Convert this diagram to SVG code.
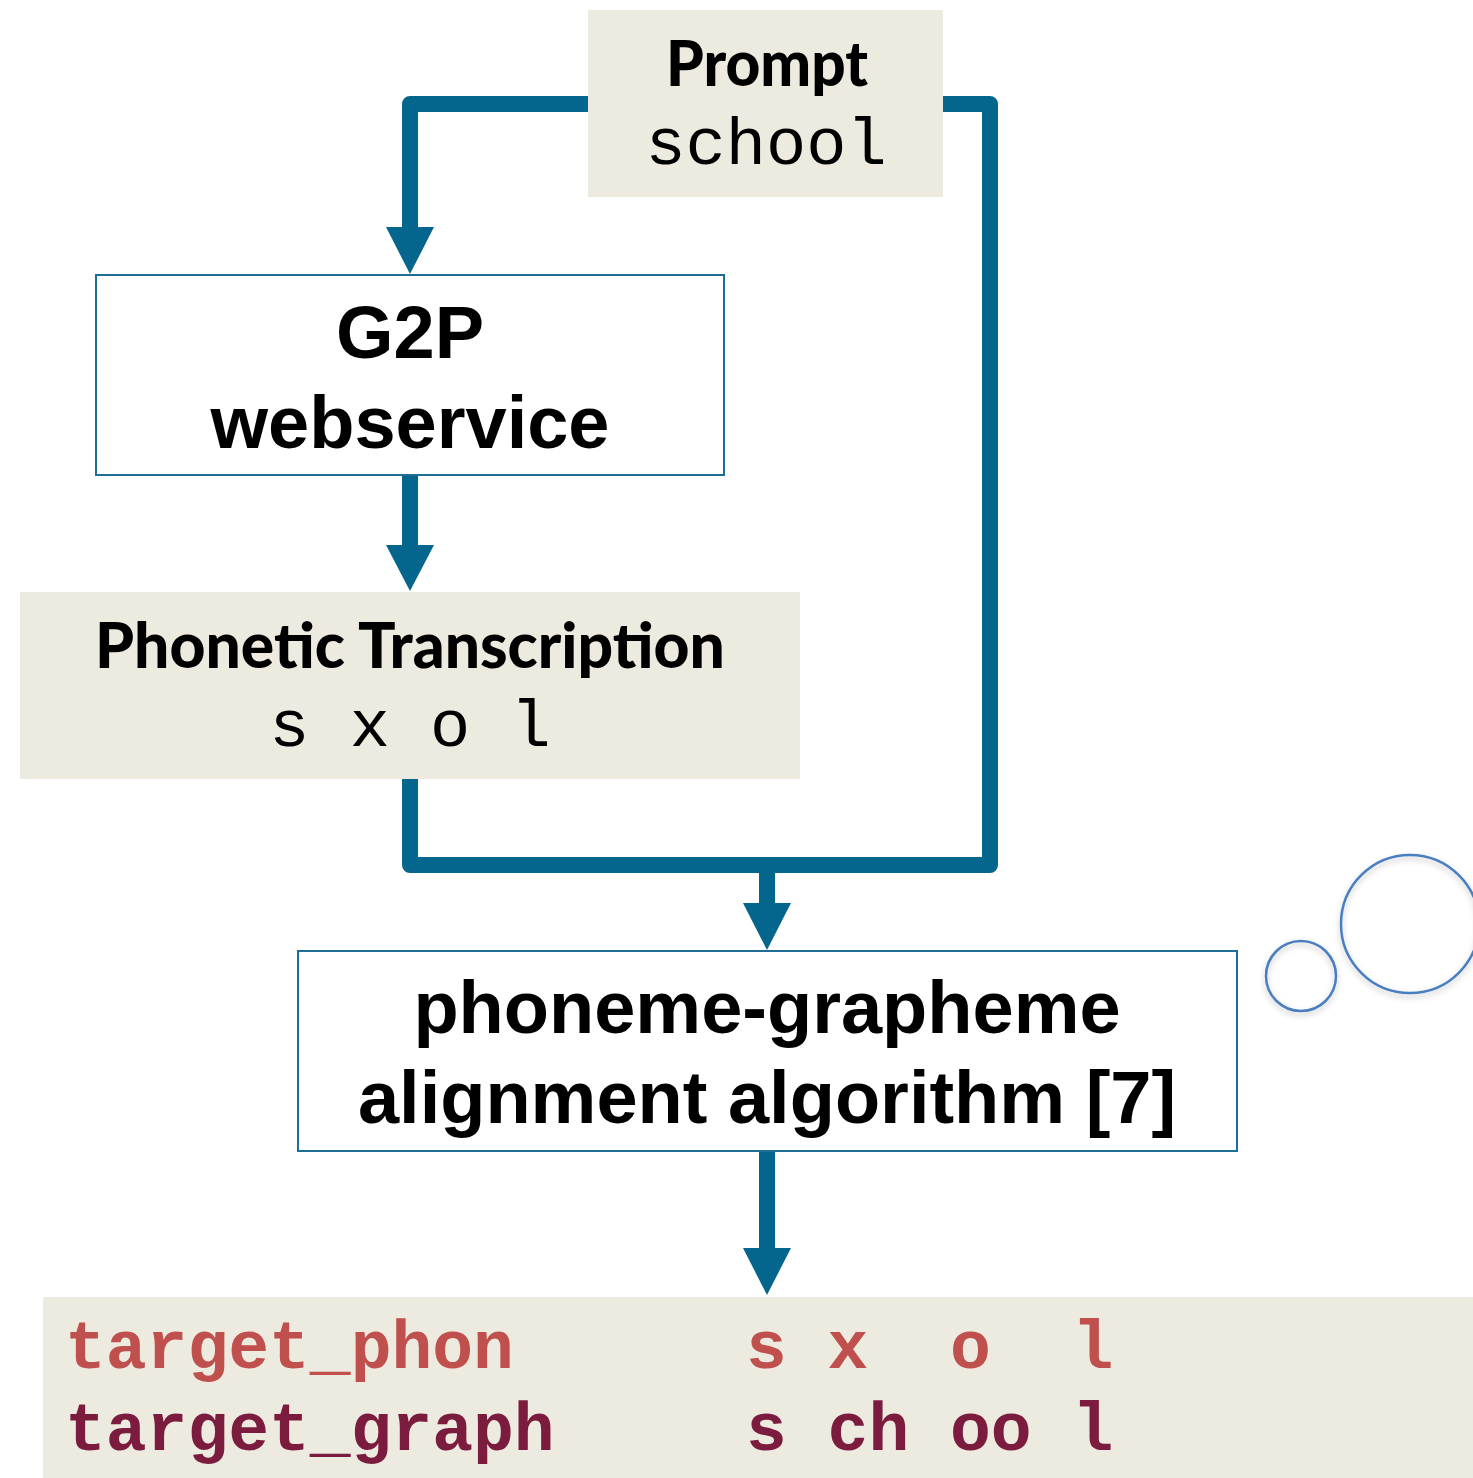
<svg xmlns="http://www.w3.org/2000/svg" width="1473" height="1478" viewBox="0 0 1473 1478">
  <style>
    .panel { fill: #EDEADF; }
    .box { fill: #FFFFFF; stroke: #1F6E9A; stroke-width: 2; }
    .wire { fill: none; stroke: #05668D; stroke-width: 16; stroke-linejoin: round; stroke-linecap: butt; }
    .head { fill: #05668D; }
    .title { font-family: Lato, "Noto Sans", sans-serif; font-weight: 900; font-size: 62px; fill: #000; text-anchor: middle; }
    .mono { font-family: "Liberation Mono", "Courier New", monospace; font-size: 67px; fill: #000; text-anchor: middle; }
    .big { font-family: "Liberation Sans", Arial, sans-serif; font-weight: bold; font-size: 74px; fill: #000; text-anchor: middle; }
    .code { font-family: "Liberation Mono", "Courier New", monospace; font-weight: bold; font-size: 68px; }
    .phon { fill: #C0504D; }
    .graph { fill: #7B1B3E; }
    .bubble { fill: none; stroke: #4A7EC0; stroke-width: 2.5; }
  </style>
  <defs>
    <filter id="soft" x="-20%" y="-20%" width="140%" height="140%">
      <feGaussianBlur in="SourceAlpha" stdDeviation="3"/>
      <feOffset dx="0" dy="3" result="b"/>
      <feComponentTransfer><feFuncA type="linear" slope="0.25"/></feComponentTransfer>
      <feMerge><feMergeNode/><feMergeNode in="SourceGraphic"/></feMerge>
    </filter>
  </defs>

  <rect width="1473" height="1478" fill="#FFFFFF"/>

  <!-- connectors -->
  <g id="connectors">
    <path class="wire" d="M 588 104 H 410 V 230"/>
    <polygon class="head" points="386,227 434,227 410,274"/>
    <path class="wire" d="M 943 104 H 990 V 865 H 410 V 779"/>
    <path class="wire" d="M 767 865 V 905"/>
    <polygon class="head" points="743,903 791,903 767,950"/>
    <path class="wire" d="M 410 475 V 547"/>
    <polygon class="head" points="386,545 434,545 410,591"/>
    <path class="wire" d="M 767 1151 V 1250"/>
    <polygon class="head" points="743,1248 791,1248 767,1295"/>
  </g>

  <!-- prompt -->
  <g id="prompt">
    <rect class="panel" x="588" y="10" width="355" height="187"/>
    <text class="title" x="767" y="86" textLength="202" lengthAdjust="spacingAndGlyphs">Prompt</text>
    <text class="mono" x="766" y="164">school</text>
  </g>

  <!-- g2p service -->
  <g id="g2p">
    <rect class="box" x="96" y="275" width="628" height="200"/>
    <text class="big" x="410" y="358">G2P</text>
    <text class="big" x="410" y="448">webservice</text>
  </g>

  <!-- phonetic transcription -->
  <g id="phonetic">
    <rect class="panel" x="20" y="592" width="780" height="187"/>
    <text class="title" x="410" y="668" textLength="630" lengthAdjust="spacingAndGlyphs">Phonetic Transcription</text>
    <text class="mono" x="410" y="746" xml:space="preserve">s x o l</text>
  </g>

  <!-- alignment -->
  <g id="alignment">
    <rect class="box" x="298" y="951" width="939" height="200"/>
    <text class="big" x="767" y="1033">phoneme-grapheme</text>
    <text class="big" x="767" y="1123">alignment algorithm [7]</text>
  </g>

  <!-- aligned output -->
  <g id="output">
    <rect class="panel" x="43" y="1297" width="1430" height="181"/>
    <text class="code phon" x="65" y="1368">target_phon</text>
    <text class="code phon" x="746" y="1368" xml:space="preserve">s x  o  l</text>
    <text class="code graph" x="65" y="1450">target_graph</text>
    <text class="code graph" x="746" y="1450" xml:space="preserve">s ch oo l</text>
  </g>

  <!-- bubbles -->
  <g id="bubbles" filter="url(#soft)">
    <circle class="bubble" cx="1301" cy="976" r="35"/>
    <circle class="bubble" cx="1410" cy="924" r="69"/>
  </g>
</svg>
